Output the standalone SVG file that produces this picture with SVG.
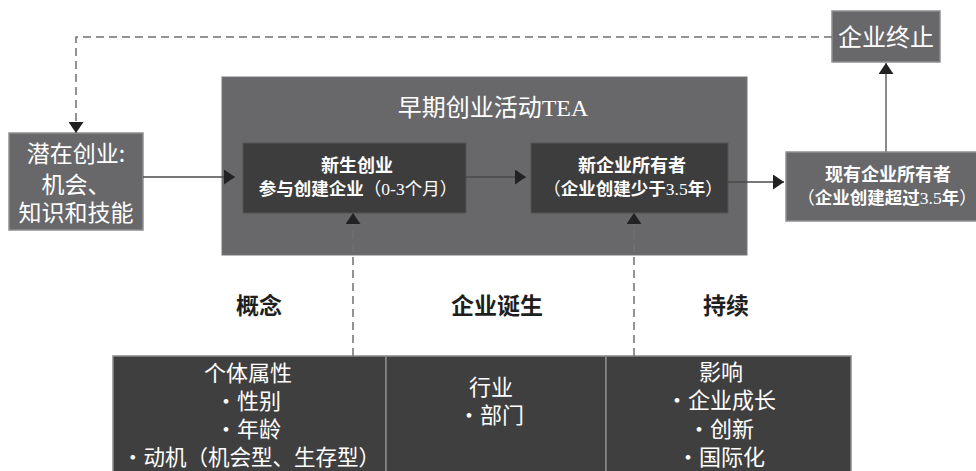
<svg xmlns="http://www.w3.org/2000/svg" width="976" height="471" viewBox="0 0 976 471">
<defs>
<style>
.gbox{fill:#68686b;stroke:#8e8e90;stroke-width:1.5}
.tea{fill:#68686b;stroke:#77777a;stroke-width:1}
.dbox{fill:#3d3d3d;stroke:#555;stroke-width:1}
.tbl{fill:#3f3f3f;stroke:#8a8a8a;stroke-width:1.5}
.w{fill:#ffffff;font-family:"Noto Sans CJK SC",sans-serif;text-anchor:middle}
.ws{fill:#ffffff;font-family:"Liberation Serif","Noto Sans CJK SC",serif;text-anchor:middle}
.k{fill:#1e1e1e;font-family:"Noto Sans CJK SC",sans-serif;font-weight:bold;text-anchor:middle;font-size:23px}
.line{fill:none;stroke:#4a4a4a;stroke-width:1.5}
.lt{fill:none;stroke:#8a8a8a;stroke-width:2}
.dash{fill:none;stroke:#707070;stroke-width:1.5;stroke-dasharray:8 5}
</style>
<marker id="ah" viewBox="0 0 11 15" refX="11" refY="7.5" markerWidth="11" markerHeight="15" markerUnits="userSpaceOnUse" orient="auto">
<path d="M0,0 L11,7.5 L0,15 z" fill="#222"/>
</marker>
</defs>

<g id="tea">
<rect class="tea" x="222" y="77" width="525" height="178"/>
<text class="ws" x="493" y="116" font-size="24">早期创业活动TEA</text>
</g>

<g id="potential">
<rect class="gbox" x="9" y="133" width="134" height="97"/>
<text class="w" x="76" y="162" font-size="23">潜在创业:</text>
<text class="w" x="76" y="193" font-size="23">机会、</text>
<text class="w" x="76" y="221" font-size="23">知识和技能</text>
</g>

<g id="nascent">
<rect class="dbox" x="243" y="143" width="223" height="70"/>
<text class="w" x="357" y="172" font-size="18" font-weight="bold">新生创业</text>
<text class="ws" x="358" y="195" font-size="17.5"><tspan font-family="Noto Sans CJK SC" font-weight="bold">参与创建企业</tspan>（0-3个月）</text>
</g>

<g id="newowner">
<rect class="dbox" x="531" y="143" width="197" height="70"/>
<text class="w" x="632" y="172" font-size="18" font-weight="bold">新企业所有者</text>
<text class="ws" x="633" y="195" font-size="17.5">（<tspan font-family="Noto Sans CJK SC" font-weight="bold">企业创建少于</tspan>3.5<tspan font-family="Noto Sans CJK SC" font-weight="bold">年</tspan>）</text>
</g>

<g id="established">
<rect class="gbox" x="786" y="152" width="195" height="69"/>
<text class="w" x="888" y="181" font-size="18" font-weight="bold">现有企业所有者</text>
<text class="ws" x="887" y="204" font-size="17.5">（<tspan font-family="Noto Sans CJK SC" font-weight="bold">企业创建超过</tspan>3.5<tspan font-family="Noto Sans CJK SC" font-weight="bold">年</tspan>）</text>
</g>

<g id="discontinue">
<rect class="gbox" x="832" y="11" width="108" height="51"/>
<text class="ws" x="886" y="46" font-size="24">企业终止</text>
</g>

<g id="labels">
<text class="k" x="259" y="314">概念</text>
<text class="k" x="497" y="314">企业诞生</text>
<text class="k" x="726" y="314">持续</text>
</g>

<g id="table">
<rect class="tbl" x="113" y="356" width="273" height="120"/>
<rect class="tbl" x="386" y="356" width="220" height="120"/>
<rect class="tbl" x="606" y="356" width="245" height="120"/>
</g>

<g id="individual">
<text class="w" x="248" y="381" font-size="22">个体属性</text>
<text class="w" x="248" y="409" font-size="22">・性别</text>
<text class="w" x="248" y="437" font-size="22">・年龄</text>
<text class="w" x="251" y="465" font-size="21.5">・动机（机会型、生存型）</text>
</g>

<g id="industry">
<text class="w" x="491" y="395" font-size="22">行业</text>
<text class="w" x="491" y="423" font-size="22">・部门</text>
</g>

<g id="impact">
<text class="w" x="721" y="380" font-size="22">影响</text>
<text class="w" x="721" y="408" font-size="22">・企业成长</text>
<text class="w" x="721" y="437" font-size="22">・创新</text>
<text class="w" x="721" y="465" font-size="22">・国际化</text>
</g>

<g id="connectors">
<path class="dash" d="M832,37 H76 V133" marker-end="url(#ah)"/>
<path class="line" d="M143,177 H235" marker-end="url(#ah)"/>
<path class="line" d="M466,177 H526" marker-end="url(#ah)"/>
<path class="line" d="M728,182 H784" marker-end="url(#ah)"/>
<path class="lt" d="M886,152 V63" marker-end="url(#ah)"/>
<path class="dash" d="M353,356 V213" marker-end="url(#ah)"/>
<path class="dash" d="M634,356 V213" marker-end="url(#ah)"/>
</g>
</svg>
